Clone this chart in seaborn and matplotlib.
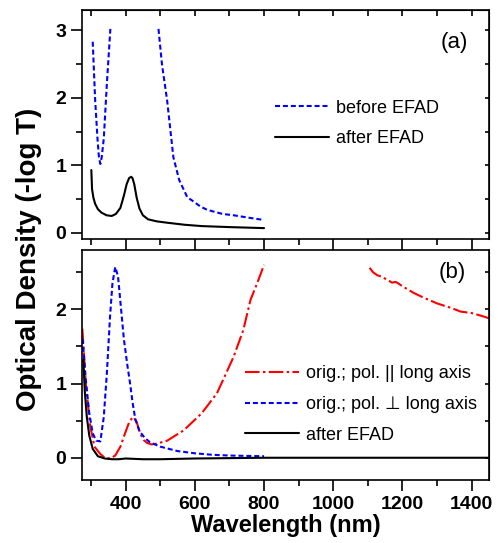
import numpy as np
import pandas as pd
import seaborn as sns
import matplotlib.pyplot as plt
from matplotlib.ticker import MultipleLocator

# --- data ---
# panel (a)
a_before_wl1 = [305, 312, 319, 323, 327, 331, 337, 346, 356]
a_before_od1 = [2.83, 1.97, 1.38, 1.12, 1.02, 1.12, 1.40, 2.22, 3.02]
a_before_wl2 = [495, 505, 520, 538, 555, 578, 600, 616, 636, 680, 712, 761, 800]
a_before_od2 = [3.02, 2.50, 1.96, 1.12, 0.78, 0.53, 0.45, 0.39, 0.34, 0.28, 0.26, 0.22, 0.19]
a_after_wl = [301, 303, 307, 312, 320, 330, 345, 360, 372, 385, 395, 403, 410,
              416, 420, 425, 432, 440, 450, 465, 490, 520, 570, 620, 700, 800]
a_after_od = [0.93, 0.65, 0.52, 0.43, 0.35, 0.30, 0.26, 0.25, 0.28, 0.37, 0.55, 0.72, 0.81,
              0.83, 0.81, 0.72, 0.52, 0.36, 0.26, 0.20, 0.17, 0.15, 0.12, 0.10, 0.085, 0.07]

# panel (b)
b_par_wl1 = [275, 285, 298, 310, 327, 340, 356, 370, 385, 400, 412, 423, 432, 442, 452,
             462, 475, 490, 520, 568, 620, 664, 712, 740, 761, 780, 800]
b_par_od1 = [1.74, 1.00, 0.42, 0.15, 0.05, 0.00, -0.01, 0.03, 0.15, 0.35, 0.50, 0.55, 0.48,
             0.33, 0.24, 0.20, 0.18, 0.19, 0.23, 0.37, 0.60, 0.87, 1.36, 1.72, 2.13, 2.35, 2.60]
b_par_wl2 = [1105, 1115, 1127, 1140, 1155, 1170, 1180, 1188, 1200, 1215, 1233, 1260,
             1300, 1340, 1368, 1400, 1430, 1450]
b_par_od2 = [2.56, 2.50, 2.46, 2.44, 2.40, 2.36, 2.37, 2.35, 2.31, 2.27, 2.22, 2.16,
             2.08, 2.02, 1.97, 1.95, 1.91, 1.88]
b_perp_wl = [276, 285, 295, 305, 315, 327, 337, 346, 355, 362, 370, 378, 385, 395, 405,
             413, 420, 428, 440, 455, 470, 500, 550, 600, 650, 700, 800]
b_perp_od = [1.60, 1.05, 0.60, 0.33, 0.23, 0.22, 0.55, 1.15, 1.90, 2.35, 2.57, 2.45, 2.10,
             1.60, 1.25, 1.00, 0.75, 0.52, 0.36, 0.27, 0.21, 0.15, 0.09, 0.06, 0.04, 0.03, 0.02]
b_after_wl = [278, 282, 288, 295, 305, 320, 340, 360, 380, 400, 450, 500, 600, 800, 1000, 1200, 1450]
b_after_od = [1.32, 0.90, 0.55, 0.30, 0.12, 0.02, -0.01, -0.02, -0.02, -0.01, -0.02, -0.02,
              -0.01, 0.0, 0.0, 0.0, 0.0]

sns.set_style("ticks")
plt.rcParams['font.family'] = ['Liberation Sans', 'DejaVu Sans']
plt.rcParams.update({'text.color': 'black', 'axes.labelcolor': 'black',
                     'axes.edgecolor': 'black', 'xtick.color': 'black',
                     'ytick.color': 'black'})

BLUE, RED = '#0000ff', '#ff0000'
LW = 1.5
DOT = (0, (2.4, 1.4))
DASHDOT = (0, (7, 1.6, 1.2, 1.6))

fig = plt.figure(figsize=(4.99, 5.43), dpi=100)
ax_a = fig.add_axes([0.165, 0.56, 0.815, 0.4216])
ax_b = fig.add_axes([0.165, 0.116, 0.815, 0.4236])

# (a)
sns.lineplot(x=a_before_wl1, y=a_before_od1, ax=ax_a, color=BLUE, lw=LW, ls=DOT, label='before EFAD')
sns.lineplot(x=a_before_wl2, y=a_before_od2, ax=ax_a, color=BLUE, lw=LW, ls=DOT)
sns.lineplot(x=a_after_wl, y=a_after_od, ax=ax_a, color='black', lw=LW, label='after EFAD')

# (b)
sns.lineplot(x=b_par_wl1, y=b_par_od1, ax=ax_b, color=RED, lw=LW, ls=DASHDOT,
             label='orig.; pol. || long axis')
sns.lineplot(x=b_par_wl2, y=b_par_od2, ax=ax_b, color=RED, lw=LW, ls=DASHDOT)
sns.lineplot(x=b_perp_wl, y=b_perp_od, ax=ax_b, color=BLUE, lw=LW, ls=DOT,
             label='orig.; pol. \u22a5 long axis')
sns.lineplot(x=b_after_wl, y=b_after_od, ax=ax_b, color='black', lw=LW, label='after EFAD')

for ax in (ax_a, ax_b):
    ax.set_xlim(275, 1450)
    ax.xaxis.set_major_locator(MultipleLocator(200))
    ax.xaxis.set_minor_locator(MultipleLocator(100))
    ax.yaxis.set_major_locator(MultipleLocator(1))
    ax.yaxis.set_minor_locator(MultipleLocator(0.5))
    ax.tick_params(which='major', direction='out', length=8, width=1.2, labelsize=14)
    ax.tick_params(which='minor', direction='out', length=4, width=1.2)
    for lab in ax.get_xticklabels() + ax.get_yticklabels():
        lab.set_fontweight('bold')
    for s in ax.spines.values():
        s.set_linewidth(1.2)
        s.set_visible(True)
    ax.set_xlabel('')
    ax.set_ylabel('')
    ax.legend(frameon=False, fontsize=13, handlelength=3.0, handletextpad=0.4,
              labelspacing=0.75, borderpad=0, borderaxespad=0)

ax_a.set_ylim(-0.09, 3.3)
ax_b.set_ylim(-0.3, 2.8)
ax_a.tick_params(axis='x', labelbottom=False)

# inward ticks on top of (a) and on the right of both panels
top = ax_a.secondary_xaxis('top')
top.xaxis.set_major_locator(MultipleLocator(100))
top.tick_params(direction='in', length=4, width=1.2, labeltop=False)
for ax in (ax_a, ax_b):
    right = ax.secondary_yaxis('right')
    right.yaxis.set_major_locator(MultipleLocator(0.5))
    right.tick_params(direction='in', length=3, width=1.2, labelright=False)

leg_a = ax_a.get_legend()
leg_a.set_bbox_to_anchor((0.474, 0.608), transform=ax_a.transAxes)
leg_a._loc = 2
leg_b = ax_b.get_legend()
leg_b.set_bbox_to_anchor((0.40, 0.498), transform=ax_b.transAxes)
leg_b._loc = 2

ax_a.text(0.915, 0.86, '(a)', transform=ax_a.transAxes, fontsize=16, ha='center', va='center')
ax_b.text(0.91, 0.9, '(b)', transform=ax_b.transAxes, fontsize=16, ha='center', va='center')

ax_b.set_xlabel('Wavelength (nm)', fontsize=17, fontweight='bold', labelpad=1)
fig.text(0.058, 0.523, 'Optical Density (-log T)', rotation=90, fontsize=20,
         fontweight='bold', ha='center', va='center')

fig.savefig('out.png', dpi=100)
